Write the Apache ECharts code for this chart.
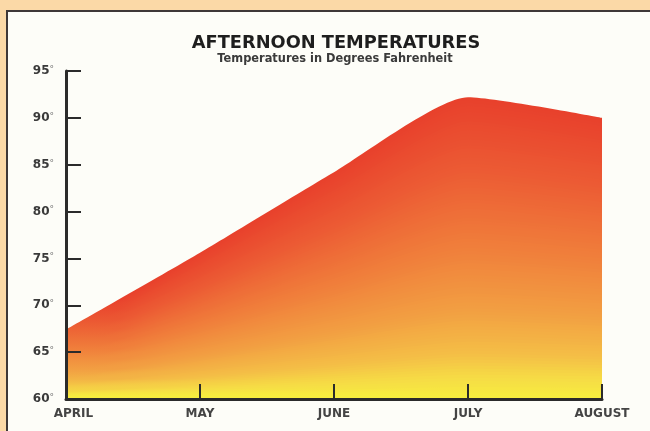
<!DOCTYPE html>
<html><head><meta charset="utf-8">
<script src="https://cdn.jsdelivr.net/npm/echarts@6/dist/echarts.min.js"></script>
<style>
html,body{margin:0;padding:0;width:650px;height:431px;overflow:hidden;background:#fbd9a7;}
#frame{position:absolute;left:6px;top:10px;width:700px;height:500px;border:2px solid #3e3838;background:#fdfdf8;}
#chart{position:absolute;left:0;top:0;width:650px;height:431px;}
</style></head><body>
<div id="frame"></div><div id="chart"></div>
<script>
// ---- data ----
const months = ['APRIL', 'MAY', 'JUNE', 'JULY', 'AUGUST'];
const temps = [67.4, 75.6, 84.2, 92.2, 90.0];
const yTicks = [60, 65, 70, 75, 80, 85, 90, 95];
const titleText = 'AFTERNOON TEMPERATURES';
const subtitleText = 'Temperatures in Degrees Fahrenheit';

// ---- styling ----
const FONT = 'DejaVu Sans';
const W = 650, H = 431;
const GRID = { left: 66, right: 48, top: 71, bottom: 32 };
const baseY = H - GRID.bottom;          // pixel row of the x axis
const yMin = yTicks[0], yMax = yTicks[yTicks.length - 1], yStep = yTicks[1] - yTicks[0];
// colour from the top edge of the fill (u=0) down to the axis (u=1)
const stops = [
  [0, [232, 64, 44]], [0.25, [236, 92, 52]], [0.5, [240, 127, 59]],
  [0.7, [242, 158, 66]], [0.85, [244, 190, 70]], [0.93, [246, 220, 69]], [1, [247, 238, 62]]
];
function colorAt(u) {
  u = Math.max(0, Math.min(1, u));
  for (let i = 1; i < stops.length; i++) {
    if (u <= stops[i][0]) {
      const a = stops[i - 1], b = stops[i];
      const t = (u - a[0]) / (b[0] - a[0]);
      const c = a[1].map((v, j) => Math.round(v + (b[1][j] - v) * t));
      return 'rgb(' + c.join(',') + ')';
    }
  }
  return 'rgb(' + stops[stops.length - 1][1].join(',') + ')';
}
const YELLOW_ZONE = 100; // px above the axis where the fill turns yellow regardless of height

// The fill is painted as nested copies of the same temperature series, each drawn on
// its own hidden y-axis whose range is stretched, so the colour follows the curve.
const LAYERS = 100;
const yAxes = [{
  type: 'value', min: yMin, max: yMax, interval: yStep,
  axisLine: { show: true, lineStyle: { color: '#2b2b2b', width: 3 } },
  axisTick: { show: true, inside: true, length: 15, lineStyle: { color: '#2b2b2b', width: 2 } },
  splitLine: { show: false },
  axisLabel: {
    margin: 12,
    formatter: v => '{n|' + v + '}{d|°}',
    rich: {
      n: { fontFamily: FONT, fontWeight: 'bold', fontSize: 12, color: '#3a3a3a' },
      d: { fontFamily: FONT, fontSize: 9, color: '#777', verticalAlign: 'top' }
    }
  },
  z: 10
}];
const series = [];
for (let k = LAYERS; k >= 1; k--) {
  let axisIndex = 0;
  if (k < LAYERS) {
    yAxes.push({ type: 'value', show: false, min: yMin, max: yMin + (yMax - yMin) * LAYERS / k });
    axisIndex = yAxes.length - 1;
  }
  const uk = 1 - (k - 0.5) / LAYERS;
  const gStops = [];
  for (let s = 0; s <= 10; s++) {
    gStops.push({ offset: s / 10, color: colorAt(Math.max(uk, s / 10)) });
  }
  const fill = new echarts.graphic.LinearGradient(0, baseY - YELLOW_ZONE, 0, baseY, gStops, true);
  series.push({
    type: 'line', data: temps, yAxisIndex: axisIndex, smooth: 0.2,
    showSymbol: false, silent: true,
    lineStyle: { width: 0 },
    areaStyle: { color: fill, opacity: 1 },
    z: 2
  });
}

const chart = echarts.init(document.getElementById('chart'), null, { renderer: 'canvas', width: W, height: H });
chart.setOption({
  animation: false,
  backgroundColor: 'transparent',
  title: [
    { text: titleText, left: 336, top: 34, textAlign: 'center', padding: 0,
      textStyle: { fontFamily: FONT, fontWeight: 'bold', fontSize: 17.8, color: '#1e1e1e' } },
    { text: subtitleText, left: 335, top: 54, textAlign: 'center', padding: 0,
      textStyle: { fontFamily: FONT, fontWeight: 'bold', fontSize: 11.4, color: '#3a3a3a' } }
  ],
  grid: Object.assign({ containLabel: false }, GRID),
  xAxis: {
    type: 'category', data: months, boundaryGap: false,
    axisLine: { lineStyle: { color: '#2b2b2b', width: 3 } },
    axisTick: { inside: true, length: 15, alignWithLabel: true, lineStyle: { color: '#2b2b2b', width: 2 } },
    axisLabel: {
      margin: 9,
      formatter: (v, i) => (i === 0 ? '{f|' + v + '}' : v),
      fontFamily: FONT, fontWeight: 'bold', fontSize: 12, color: '#444',
      rich: { f: { fontFamily: FONT, fontWeight: 'bold', fontSize: 12, color: '#444', padding: [0, 0, 0, 15] } }
    },
    z: 10
  },
  yAxis: yAxes,
  series: series
});
</script>
</body></html>
